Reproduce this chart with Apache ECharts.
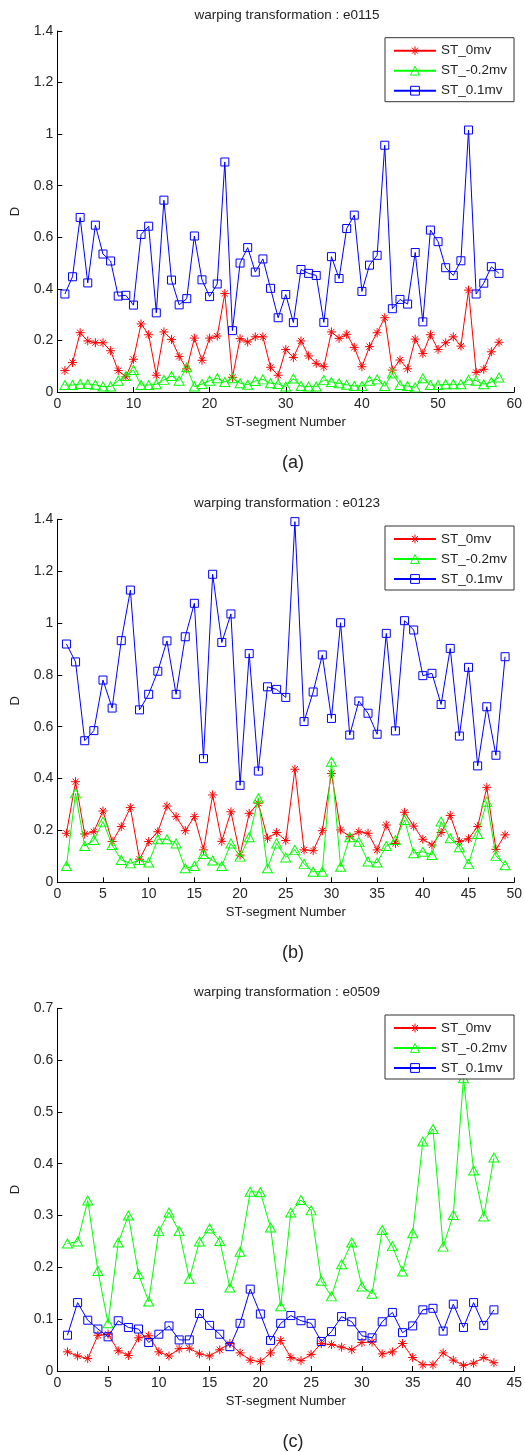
<!DOCTYPE html>
<html>
<head>
<meta charset="utf-8">
<script src="https://cdn.jsdelivr.net/npm/echarts@6/dist/echarts.min.js"></script>
<style>
html,body{margin:0;padding:0;background:#fff;}
#chart{width:525px;height:1452px;}
</style>
</head>
<body>
<div id="chart"></div>
<script>
// ---- data ----
var seriesNames = ['ST_0mv', 'ST_-0.2mv', 'ST_0.1mv'];
var panelTitles = ['warping transformation : e0115', 'warping transformation : e0123', 'warping transformation : e0509'];
var panelCaptions = ['(a)', '(b)', '(c)'];

var a_red = [0.083,0.114,0.23,0.198,0.191,0.191,0.16,0.083,0.059,0.127,0.264,0.222,0.065,0.233,0.204,0.138,0.09,0.209,0.123,0.209,0.217,0.382,0.057,0.207,0.194,0.214,0.214,0.096,0.065,0.165,0.134,0.198,0.14,0.111,0.098,0.233,0.208,0.224,0.173,0.098,0.176,0.23,0.288,0.085,0.124,0.09,0.205,0.149,0.222,0.165,0.191,0.214,0.178,0.395,0.076,0.088,0.156,0.193];
var a_green = [0.027,0.027,0.031,0.031,0.028,0.021,0.021,0.044,0.062,0.085,0.027,0.027,0.03,0.047,0.062,0.044,0.096,0.021,0.031,0.044,0.053,0.039,0.053,0.034,0.028,0.043,0.049,0.034,0.031,0.021,0.052,0.023,0.021,0.021,0.047,0.039,0.034,0.028,0.023,0.023,0.044,0.049,0.023,0.072,0.027,0.023,0.018,0.053,0.027,0.027,0.03,0.03,0.03,0.047,0.044,0.03,0.039,0.056];
var a_blue = [0.38,0.447,0.677,0.423,0.647,0.535,0.508,0.372,0.375,0.337,0.611,0.643,0.307,0.744,0.434,0.338,0.362,0.605,0.435,0.37,0.419,0.892,0.238,0.5,0.56,0.465,0.516,0.402,0.288,0.378,0.269,0.475,0.46,0.452,0.27,0.525,0.44,0.634,0.686,0.39,0.492,0.53,0.957,0.323,0.359,0.341,0.541,0.272,0.628,0.583,0.482,0.452,0.509,1.016,0.38,0.422,0.486,0.46];

var b_red = [0.189,0.388,0.186,0.195,0.275,0.157,0.215,0.288,0.089,0.157,0.195,0.294,0.253,0.199,0.253,0.125,0.337,0.158,0.272,0.105,0.266,0.305,0.17,0.192,0.161,0.436,0.125,0.122,0.199,0.42,0.202,0.176,0.195,0.189,0.125,0.221,0.15,0.27,0.217,0.166,0.144,0.192,0.258,0.157,0.168,0.215,0.366,0.127,0.183];
var b_green = [0.063,0.343,0.14,0.163,0.234,0.144,0.086,0.073,0.086,0.076,0.166,0.166,0.15,0.054,0.063,0.109,0.084,0.063,0.15,0.099,0.174,0.324,0.054,0.15,0.096,0.125,0.071,0.041,0.041,0.465,0.06,0.174,0.156,0.08,0.076,0.14,0.163,0.24,0.112,0.118,0.105,0.234,0.17,0.135,0.071,0.186,0.311,0.102,0.066];
var b_blue = [0.919,0.85,0.546,0.585,0.78,0.672,0.932,1.127,0.665,0.725,0.814,0.931,0.725,0.947,1.076,0.477,1.188,0.925,1.035,0.374,0.882,0.429,0.754,0.744,0.713,1.391,0.62,0.734,0.877,0.632,1.001,0.568,0.699,0.652,0.571,0.96,0.584,1.009,0.973,0.797,0.806,0.686,0.902,0.564,0.829,0.449,0.677,0.49,0.87];

var c_red = [0.037,0.029,0.024,0.069,0.071,0.039,0.03,0.064,0.068,0.037,0.029,0.043,0.044,0.033,0.029,0.041,0.053,0.035,0.021,0.018,0.035,0.059,0.026,0.02,0.032,0.053,0.051,0.046,0.041,0.055,0.056,0.033,0.037,0.053,0.026,0.012,0.012,0.035,0.021,0.011,0.015,0.026,0.016];
var c_green = [0.246,0.25,0.329,0.193,0.092,0.248,0.3,0.187,0.134,0.27,0.306,0.27,0.178,0.25,0.275,0.251,0.161,0.23,0.346,0.345,0.277,0.125,0.306,0.33,0.31,0.174,0.144,0.206,0.248,0.163,0.149,0.272,0.241,0.192,0.266,0.443,0.467,0.24,0.301,0.565,0.387,0.298,0.412];
var c_blue = [0.069,0.132,0.098,0.081,0.066,0.097,0.084,0.081,0.055,0.071,0.087,0.06,0.06,0.111,0.088,0.071,0.047,0.092,0.158,0.11,0.059,0.092,0.107,0.097,0.092,0.057,0.076,0.105,0.095,0.068,0.064,0.095,0.113,0.074,0.087,0.118,0.121,0.077,0.129,0.084,0.132,0.088,0.118];

var xMax = [60, 50, 45];
var xStep = [10, 5, 5];
var yMax = [1.4, 1.4, 0.7];
var yStep = [0.2, 0.2, 0.1];

// ---- layout ----
var gridTops = [31, 519.3, 1008.3];
var gridH = [361, 363, 362.7];
var colors = ['#ff0000', '#00ff00', '#0000ff'];
var starPath = 'path://M5,0L5,10M0,5L10,5M1.6,1.6L8.4,8.4M1.6,8.4L8.4,1.6';
var symbols = [starPath, 'triangle', 'rect'];
var symSizes = [9, [10, 9], 8];
var font = '"Liberation Sans", Arial, sans-serif';

var panels = [[a_red, a_green, a_blue], [b_red, b_green, b_blue], [c_red, c_green, c_blue]];

function pairs(arr) {
  return arr.map(function (v, i) { return [i + 1, v]; });
}

var grids = [], xAxes = [], yAxes = [], series = [], titles = [], legends = [], graphics = [];
for (var p = 0; p < 3; p++) {
  grids.push({left: 57.3, width: 460, top: gridTops[p], height: gridH[p], containLabel: false});
  xAxes.push({
    type: 'value', gridIndex: p, min: 0, max: xMax[p], interval: xStep[p],
    name: 'ST-segment Number', nameLocation: 'middle', nameGap: 24,
    nameTextStyle: {fontFamily: font, fontSize: 13, color: '#222'},
    axisLine: {show: true, onZero: false, lineStyle: {color: '#000', width: 1}},
    axisTick: {show: true, inside: true, length: 5, lineStyle: {color: '#000'}},
    axisLabel: {fontFamily: font, fontSize: 14, color: '#262626', margin: 5},
    splitLine: {show: false}
  });
  yAxes.push({
    type: 'value', gridIndex: p, min: 0, max: yMax[p], interval: yStep[p],
    axisLine: {show: true, onZero: false, lineStyle: {color: '#000', width: 1}},
    axisTick: {show: true, inside: true, length: 5, lineStyle: {color: '#000'}},
    axisLabel: {fontFamily: font, fontSize: 14, color: '#262626', margin: 4},
    splitLine: {show: false}
  });
  for (var s = 0; s < 3; s++) {
    series.push({
      type: 'line', name: seriesNames[s], xAxisIndex: p, yAxisIndex: p,
      data: pairs(panels[p][s]),
      color: colors[s],
      symbol: symbols[s], symbolSize: symSizes[s], showAllSymbol: true,
      lineStyle: {color: colors[s], width: 1},
      itemStyle: {color: 'rgba(0,0,0,0)', borderColor: colors[s], borderWidth: 1},
      emphasis: {disabled: true},
      animation: false, z: 2 + s
    });
  }
  titles.push({
    text: panelTitles[p], left: 287, top: gridTops[p] - 23, textAlign: 'center', padding: 0,
    textStyle: {fontFamily: font, fontSize: 13.5, fontWeight: 'normal', color: '#222'}
  });
  legends.push({
    data: seriesNames.slice(), orient: 'vertical', left: 385, top: gridTops[p] + 6.7,
    padding: [6, 7, 4, 8], itemWidth: 42, itemHeight: 11, itemGap: 6,
    backgroundColor: '#fff', borderColor: '#333', borderWidth: 1,
    textStyle: {fontFamily: font, fontSize: 13.5, color: '#222'},
    itemStyle: {borderWidth: 1},
    selectedMode: false
  });
  graphics.push({
    type: 'text', x: 15, y: gridTops[p] + gridH[p] / 2, rotation: Math.PI / 2,
    style: {text: 'D', font: '13px ' + font, fill: '#222', textAlign: 'center', textVerticalAlign: 'middle'}
  });
  graphics.push({
    type: 'text', x: 293, y: gridTops[p] + gridH[p] + 71,
    style: {text: panelCaptions[p], font: '18px ' + font, fill: '#222', textAlign: 'center', textVerticalAlign: 'middle'}
  });
}

var chart = echarts.init(document.getElementById('chart'), null, {renderer: 'canvas'});
chart.setOption({
  backgroundColor: '#fff',
  animation: false,
  title: titles,
  legend: legends,
  grid: grids,
  xAxis: xAxes,
  yAxis: yAxes,
  series: series,
  graphic: graphics
});
</script>
</body>
</html>
